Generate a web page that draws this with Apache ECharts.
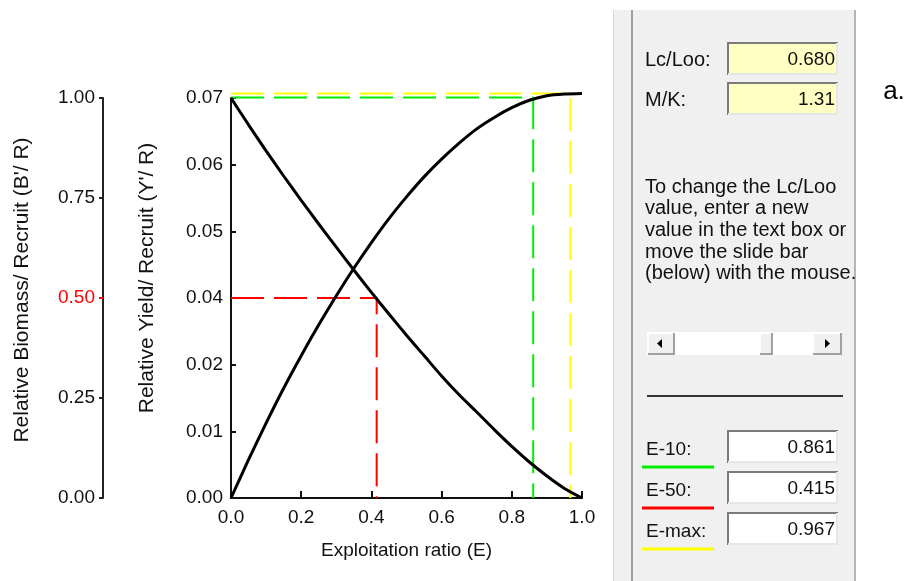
<!DOCTYPE html>
<html lang="en">
<head>
    <meta charset="UTF-8">
    <title>Yield and biomass per recruit</title>
    <script src="https://cdn.jsdelivr.net/npm/echarts@6/dist/echarts.min.js"></script>
    <style>
        html, body { margin: 0; padding: 0; background: #fff; }
    </style>
</head>
<body>
    <div id="chart" style="width:909px;height:581px"></div>
<script>
    // exploitation ratio E and the two curves
    const E = [0, 0.05, 0.1, 0.15, 0.2, 0.25, 0.3, 0.35, 0.4, 0.45, 0.5,
               0.55, 0.6, 0.65, 0.7, 0.75, 0.8, 0.85, 0.9, 0.95, 1.0];
    const yieldPerRecruit = [0, 0.0067, 0.0131, 0.0192, 0.0249, 0.0303, 0.0354, 0.0402, 0.0447, 0.0489, 0.0527,
                             0.0562, 0.0593, 0.0621, 0.0646, 0.0666, 0.0683, 0.0696, 0.0704, 0.0707, 0.0708];
    const biomassPerRecruit = [1.0, 0.933, 0.868, 0.805, 0.744, 0.685, 0.627, 0.570, 0.514, 0.460, 0.407,
                               0.356, 0.305, 0.258, 0.215, 0.171, 0.129, 0.090, 0.055, 0.024, 0.0];

    const xTickLabels = ['0.0', '0.2', '0.4', '0.6', '0.8', '1.0'];
    const yieldTickLabels = ['0.00', '0.01', '0.02', '0.04', '0.05', '0.06', '0.07'];
    const biomassTickLabels = ['0.00', '0.25', '0.50', '0.75', '1.00'];

    // reference points (panel values)
    const refLabels = ['E-10:', 'E-50:', 'E-max:'];
    const refValues = [0.861, 0.415, 0.967];
    const e10Yield = 0.0701;
    const maxYield = 0.0708;
    const halfBiomass = 0.5;

    const inputLabels = ['Lc/Loo:', 'M/K:'];
    const inputValues = ['0.680', '1.31'];
    const helpLines = ['To change the Lc/Loo', 'value, enter a new', 'value in the text box or',
                       'move the slide bar', '(below) with the mouse.'];

    const FONT = '"Liberation Sans", Arial, sans-serif';
    const yieldMax = 0.07;
    const yieldStep = yieldMax / (yieldTickLabels.length - 1);
    const yieldTickValues = yieldTickLabels.map((s, i) => i * yieldStep);

    function pairs(ys) { return E.map((x, i) => [x, ys[i]]); }

    // ---- windows-style panel on the right ----
    function sunken(x, y, w, h, fill, value) {
        return [
            { type: 'rect', shape: { x: x, y: y, width: w, height: h }, style: { fill: fill } },
            { type: 'polyline', shape: { points: [[x + 1, y + h], [x + 1, y + 1], [x + w, y + 1]] },
              style: { stroke: '#7a7a7a', lineWidth: 2, fill: null } },
            { type: 'polyline', shape: { points: [[x + w - 1, y + 1], [x + w - 1, y + h - 1], [x + 1, y + h - 1]] },
              style: { stroke: '#e6e6e6', lineWidth: 2, fill: null } },
            { type: 'text', x: x + w - 3, y: y + h / 2 + 1,
              style: { text: value, font: '19px ' + FONT, fill: '#111', align: 'right', verticalAlign: 'middle' } }
        ];
    }
    function raised(x, y, w, h) {
        return [
            { type: 'rect', shape: { x: x, y: y, width: w, height: h }, style: { fill: '#f0f0f0' } },
            { type: 'polyline', shape: { points: [[x + 1, y + h], [x + 1, y + 1], [x + w, y + 1]] },
              style: { stroke: '#ffffff', lineWidth: 2, fill: null } },
            { type: 'polyline', shape: { points: [[x + w - 1, y + 1], [x + w - 1, y + h - 1], [x + 1, y + h - 1]] },
              style: { stroke: '#a0a0a0', lineWidth: 2, fill: null } }
        ];
    }

    let graphic = [
        { type: 'rect', shape: { x: 613, y: 10, width: 243, height: 571 }, style: { fill: '#f0f0f0' } },
        { type: 'line', shape: { x1: 613.5, y1: 10, x2: 613.5, y2: 581 }, style: { stroke: '#d6d6d6', lineWidth: 1 } },
        { type: 'line', shape: { x1: 632, y1: 10, x2: 632, y2: 581 }, style: { stroke: '#a0a0a0', lineWidth: 2 } },
        { type: 'line', shape: { x1: 855, y1: 10, x2: 855, y2: 581 }, style: { stroke: '#b4b4b4', lineWidth: 2 } },
        { type: 'text', x: 894, y: 92, style: { text: 'a.', font: '26px ' + FONT, fill: '#000', align: 'center', verticalAlign: 'middle' } },
        // y axis titles
        { type: 'text', x: 147, y: 278, rotation: Math.PI / 2,
          style: { text: "Relative Yield/ Recruit (Y'/ R)", font: '21px ' + FONT, fill: '#111', align: 'center', verticalAlign: 'middle' } },
        { type: 'text', x: 22, y: 290, rotation: Math.PI / 2,
          style: { text: "Relative Biomass/ Recruit (B'/ R)", font: '21px ' + FONT, fill: '#111', align: 'center', verticalAlign: 'middle' } }
    ];

    inputLabels.forEach((lbl, i) => {
        const y = 42 + i * 40;
        graphic.push({ type: 'text', x: 645, y: y + 18,
            style: { text: lbl, font: '20px ' + FONT, fill: '#111', verticalAlign: 'middle' } });
        graphic = graphic.concat(sunken(727, y, 111, 33, '#ffffc4', inputValues[i]));
    });
    helpLines.forEach((line, i) => {
        graphic.push({ type: 'text', x: 645, y: 187 + i * 21.7,
            style: { text: line, font: '20px ' + FONT, fill: '#111', verticalAlign: 'middle' } });
    });

    // slider
    graphic.push({ type: 'rect', shape: { x: 647, y: 332, width: 195, height: 23 }, style: { fill: '#ffffff' } });
    graphic = graphic.concat(raised(647, 332, 28, 23), raised(759, 332, 14, 23), raised(812, 332, 30, 23));
    graphic.push({ type: 'polygon', shape: { points: [[657, 343.5], [662, 339], [662, 348]] }, style: { fill: '#000' } });
    graphic.push({ type: 'polygon', shape: { points: [[830, 343.5], [825, 339], [825, 348]] }, style: { fill: '#000' } });
    graphic.push({ type: 'line', shape: { x1: 647, y1: 396, x2: 843, y2: 396 }, style: { stroke: '#333', lineWidth: 2 } });

    const refColors = ['#00ee00', '#ff0000', '#ffff00'];
    refLabels.forEach((lbl, i) => {
        const y = 430 + i * 41;
        graphic.push({ type: 'text', x: 646, y: y + 20,
            style: { text: lbl, font: '19px ' + FONT, fill: '#111', verticalAlign: 'middle' } });
        graphic.push({ type: 'line', shape: { x1: 642, y1: y + 37, x2: 714, y2: y + 37 },
            style: { stroke: refColors[i], lineWidth: 3 } });
        graphic = graphic.concat(sunken(727, y, 111, 33, '#ffffff', refValues[i].toFixed(3)));
    });

    const dash = [33, 10];
    const guide = (name, data, color, axis) => ({
        name: name, type: 'line', data: data, yAxisIndex: axis, symbol: 'none', silent: true, clip: false,
        lineStyle: { color: color, width: 2, type: dash }, z: 1
    });

    const chart = echarts.init(document.getElementById('chart'));
    chart.setOption({
        animation: false,
        backgroundColor: '#ffffff',
        textStyle: { fontFamily: FONT },
        grid: { left: 231, right: 327, top: 98, bottom: 83 },
        xAxis: {
            type: 'value', min: 0, max: 1, interval: 0.2,
            name: 'Exploitation ratio (E)', nameLocation: 'middle', nameGap: 43,
            nameTextStyle: { fontSize: 19, color: '#111', fontFamily: FONT },
            axisLine: { lineStyle: { color: '#111', width: 2 } },
            axisTick: { inside: true, length: 7, lineStyle: { color: '#111', width: 2 } },
            axisLabel: { fontSize: 19, color: '#111', margin: 10,
                         formatter: v => xTickLabels[Math.round(v / 0.2)] },
            splitLine: { show: false }
        },
        yAxis: [
            {
                type: 'value', min: 0, max: yieldMax, position: 'left',
                axisLine: { show: true, lineStyle: { color: '#111', width: 2 } },
                axisTick: { show: true, inside: true, length: 5, customValues: yieldTickValues,
                            lineStyle: { color: '#111', width: 2 } },
                axisLabel: { fontSize: 19, color: '#111', margin: 8, customValues: yieldTickValues,
                             formatter: v => yieldTickLabels[Math.round(v / yieldStep)] },
                splitLine: { show: false }
            },
            {
                type: 'value', min: 0, max: 1, interval: 0.25, position: 'left', offset: 128,
                axisLine: { show: true, lineStyle: { color: '#222', width: 2 } },
                axisTick: { show: true, length: 4, lineStyle: { color: '#222', width: 2 } },
                axisLabel: {
                    fontSize: 19, color: '#111', margin: 8,
                    formatter: v => {
                        const s = biomassTickLabels[Math.round(v / 0.25)];
                        return v === halfBiomass ? '{red|' + s + '}' : s;
                    },
                    rich: { red: { color: '#ff0000', fontSize: 19, fontFamily: FONT } }
                },
                splitLine: { show: false }
            },
            {
                // red tick at 0.50 on the biomass axis
                type: 'value', min: 0, max: 1, position: 'left', offset: 128,
                axisLine: { show: false },
                axisTick: { show: true, length: 4, customValues: [halfBiomass],
                            lineStyle: { color: '#ff0000', width: 2 } },
                axisLabel: { show: false },
                splitLine: { show: false }
            }
        ],
        series: [
            guide('E-max', [[0, maxYield], [refValues[2], maxYield], [refValues[2], 0]], '#ffff00', 0),
            guide('E-10', [[0, e10Yield], [refValues[0], e10Yield], [refValues[0], 0]], '#00ee00', 0),
            guide('E-50', [[0, halfBiomass], [refValues[1], halfBiomass], [refValues[1], 0]], '#ff0000', 1),
            {
                name: "Y'/R", type: 'line', data: pairs(yieldPerRecruit), yAxisIndex: 0,
                symbol: 'none', smooth: 0.25, clip: false,
                lineStyle: { color: '#000', width: 3 }, z: 3
            },
            {
                name: "B'/R", type: 'line', data: pairs(biomassPerRecruit), yAxisIndex: 1,
                symbol: 'none', smooth: 0.25, clip: false,
                lineStyle: { color: '#000', width: 3 }, z: 3
            }
        ],
        graphic: graphic
    });
</script>
</body>
</html>
